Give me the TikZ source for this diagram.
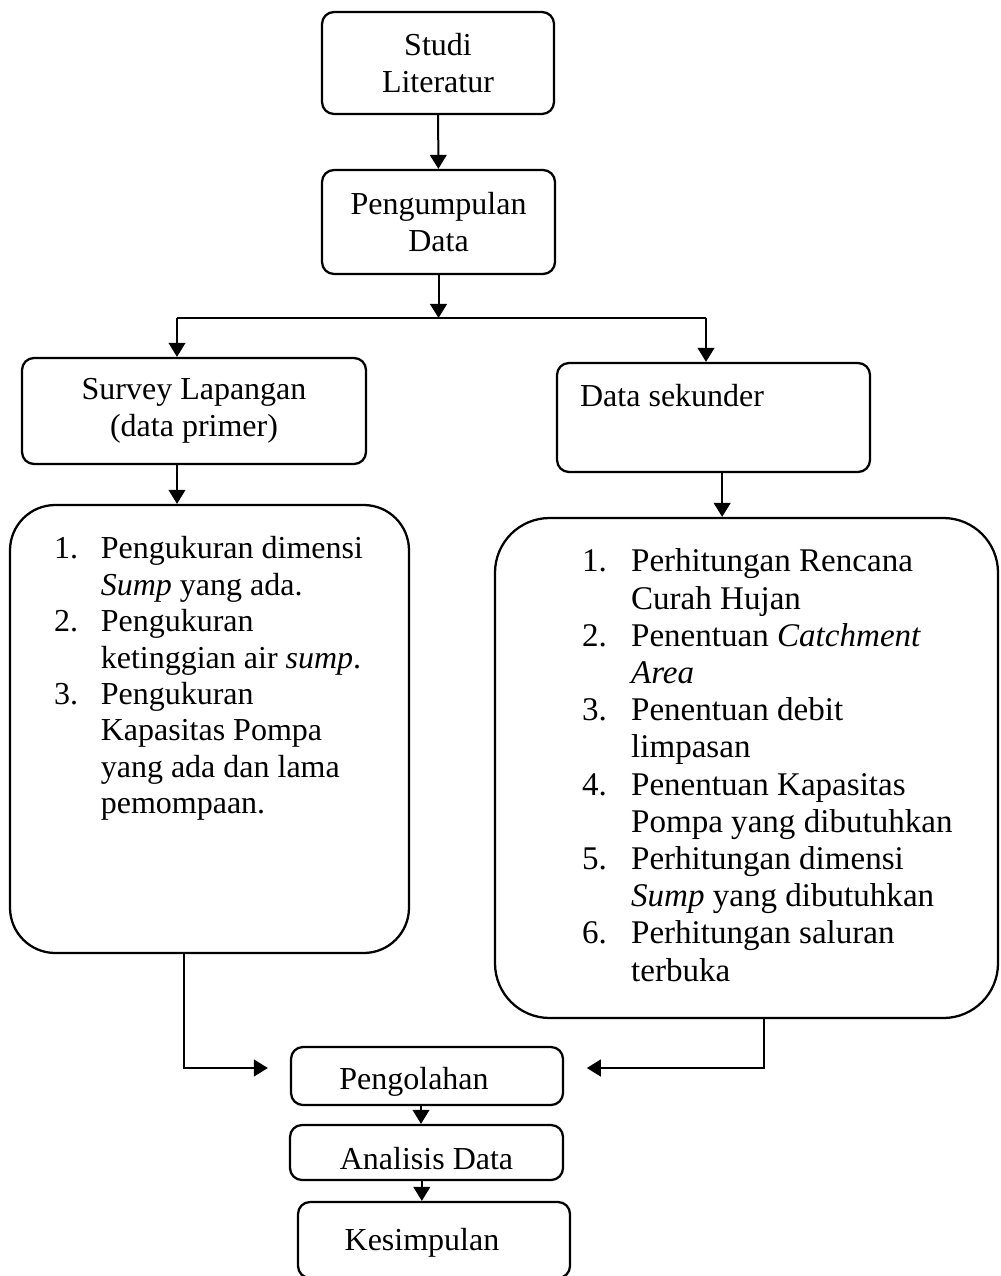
\documentclass[tikz,border=0pt]{standalone}
\usepackage{fontspec}
\setmainfont{Liberation Serif}
\usetikzlibrary{arrows.meta,positioning}

\tikzset{
  box/.style={draw, line width=1.7pt, rounded corners=9pt, inner sep=0pt,
    font=\fontsize{24}{28}\selectfont},
  tallbox/.style={box, align=center},
  bigbox/.style={draw, line width=1.7pt, inner sep=0pt},
  arr/.style={line width=1.5pt, -{Triangle[length=10.5pt,width=12.5pt]}},
  joint/.style={line width=1.5pt},
  listtext/.style={inner sep=0pt, anchor=base west},
}

\begin{document}
\begin{tikzpicture}[x=0.75pt,y=0.75pt,yscale=-1,xscale=1]
\useasboundingbox (0,0) rectangle (1000,1276);

%Shape: Rounded Rect [Studi Literatur]
\node[tallbox, minimum width=174pt, minimum height=76.5pt] (studi) at (438,63) {Studi\\Literatur};
%Shape: Rounded Rect [Pengumpulan Data]
\node[tallbox, minimum width=174.75pt, minimum height=78pt] (kumpul) at (438.5,222) {Pengumpulan\\Data};
%Shape: Rounded Rect [Survey Lapangan]
\node[tallbox, minimum width=258pt, minimum height=79.5pt] (survey) at (194,411) {Survey Lapangan\\(data primer)};
%Shape: Rounded Rect [Data sekunder]
\node[box, minimum width=234.75pt, minimum height=81.75pt] (sekunder) at (713.5,417.5) {};
\node[listtext, font=\fontsize{24}{28}\selectfont] (sekundertext) at ([shift={(24,45)}]sekunder.north west) {Data sekunder};

%Shape: Rounded Rect [primer list]
\node[bigbox, rounded corners=34pt, minimum width=299.25pt, minimum height=336pt] (lbox) at (209.5,729) {};
\node[listtext, font=\fontsize{24}{27.3}\selectfont] (ltext) at ([shift={(45,55)}]lbox.north west) {%
\begin{tabular}[t]{@{}p{35pt}@{}l@{}}
1. & Pengukuran dimensi\\
   & \textit{Sump} yang ada.\\
2. & Pengukuran\\
   & ketinggian air \textit{sump}.\\
3. & Pengukuran\\
   & Kapasitas Pompa\\
   & yang ada dan lama\\
   & pemompaan.
\end{tabular}};

%Shape: Rounded Rect [sekunder list]
\node[bigbox, rounded corners=41pt, minimum width=377.25pt, minimum height=375pt] (rbox) at (746.5,768) {};
\node[listtext, font=\fontsize{24.8}{27.9}\selectfont] (rtext) at ([shift={(88,55)}]rbox.north west) {%
\begin{tabular}[t]{@{}p{36.75pt}@{}l@{}}
1. & Perhitungan Rencana\\
   & Curah Hujan\\
2. & Penentuan \textit{Catchment}\\
   & \textit{Area}\\
3. & Penentuan debit\\
   & limpasan\\
4. & Penentuan Kapasitas\\
   & Pompa yang dibutuhkan\\
5. & Perhitungan dimensi\\
   & \textit{Sump} yang dibutuhkan\\
6. & Perhitungan saluran\\
   & terbuka
\end{tabular}};

%Shape: Rounded Rect [Pengolahan]
\node[box, minimum width=204pt, minimum height=43.5pt, text height=20pt, text depth=0pt] (olah) at (427,1076) {\hspace*{-19.5pt}Pengolahan};
%Shape: Rounded Rect [Analisis Data]
\node[box, minimum width=204.75pt, minimum height=41.25pt, text height=26pt, text depth=0pt] (analisis) at (426.5,1152.5) {Analisis Data};
%Shape: Rounded Rect [Kesimpulan]
\node[box, minimum width=204pt, minimum height=57pt, text height=15.6pt, text depth=0pt] (simpul) at (434,1240) {\hspace*{-18pt}Kesimpulan};

%Straight Lines [split]
\coordinate (splitL) at (177,318);
\coordinate (splitR) at (706,318);
\coordinate (split) at (kumpul.south |- splitL);
\draw[arr] (studi) -- (kumpul);
\draw[arr] (kumpul) -- (split);
\draw[joint] (splitL) -- (splitR);
\draw[arr] (splitL) -- (splitL |- survey.north);
\draw[arr] (splitR) -- (splitR |- sekunder.north);
\draw[arr] (survey.south -| splitL) -- (lbox.north -| splitL);
\draw[arr] ([xshift=6.5pt]sekunder.south) -- ([xshift=6.5pt]sekunder.south |- rbox.north);

%Straight Lines [into Pengolahan]
\draw[arr, shorten >=16.5pt] ([xshift=-19pt]lbox.south) |- ([yshift=-6pt]olah.west);
\draw[arr, shorten >=17pt] ([xshift=13pt]rbox.south) |- ([yshift=-6pt]olah.east);
\draw[arr] ([xshift=-4.5pt]olah.south) -- ([xshift=-4.5pt]olah.south |- analisis.north);
\draw[arr] ([xshift=-3.5pt]analisis.south) -- ([xshift=-3.5pt]analisis.south |- simpul.north);

\end{tikzpicture}
\end{document}
